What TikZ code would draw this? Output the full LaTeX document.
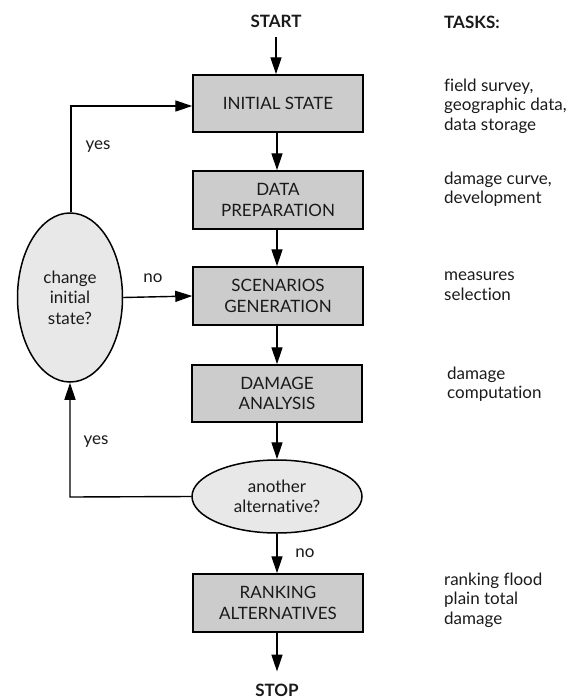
\documentclass[tikz,border=0pt]{standalone}
\usepackage{fontspec}
\setmainfont[Ligatures=NoCommon]{Lato}
\usetikzlibrary{shapes.geometric,arrows.meta}
\definecolor{boxgray}{HTML}{CCCCCC}
\definecolor{ellgray}{HTML}{E8E8E8}
\definecolor{ink}{HTML}{1A1A1A}
\newcommand{\bigtxt}{\fontsize{17}{20.5}\selectfont}
\tikzset{
  stepbox/.style={draw, line width=1.5pt, fill=boxgray, minimum width=170pt, inner sep=0pt, align=center, font=\bigtxt, text=ink},
  decision/.style={draw, line width=1.5pt, fill=ellgray, ellipse, inner sep=0pt, align=center, font=\bigtxt, text=ink},
  conn/.style={line width=1.4pt, -{Triangle[length=17pt,width=11pt]}},
  lbl/.style={font=\bigtxt, inner sep=0pt, text=ink},
  boldlbl/.style={font=\bigtxt\bfseries, inner sep=0pt, text=ink},
  task/.style={font=\fontsize{17}{19.5}\selectfont, align=left, anchor=west, inner sep=0pt, text=ink},
}
\begin{document}
\begin{tikzpicture}[x=1pt,y=-1pt]
\useasboundingbox (0,0) rectangle (584,699);
\node[boldlbl] (start) at (276,21) {START};
\node[stepbox, minimum height=57pt] (init) at (278,103.5) {INITIAL STATE};
\node[stepbox, minimum height=58pt] (prep) at (278,200) {DATA\\PREPARATION};
\node[stepbox, minimum height=58pt] (scen) at (278,296) {SCENARIOS\\GENERATION};
\node[stepbox, minimum height=57pt] (dam) at (277,393.5) {DAMAGE\\ANALYSIS};
\node[decision, minimum width=170pt, minimum height=73pt] (alt) at (277,496.5) {another\\alternative?};
\node[stepbox, minimum height=58pt] (rank) at (278,603) {RANKING\\ALTERNATIVES};
\node[boldlbl] (stop) at (277,690) {STOP};
\node[decision, minimum width=105pt, minimum height=169pt] (chg) at (70,297.5) {change\\initial\\state?};

\coordinate (c1) at (71,106);
\coordinate (c2) at (70,497);

\draw[conn, shorten <=10pt] (start) -- (start |- init.north);
\draw[conn] (init.south -| 277,0) -- (prep.north -| 277,0);
\draw[conn] (prep.south -| 277,0) -- (scen.north -| 277,0);
\draw[conn] (scen.south -| 277,0) -- (dam.north -| 277,0);
\draw[conn] (dam.south) -- (alt.north);
\draw[conn] (alt.south) -- (rank.north -| alt.south);
\draw[conn, shorten >=12pt] (rank.south -| stop) -- (stop);
\draw[conn] (chg.east) -- (scen.west);
\draw[conn] (chg.north -| c1) -- (c1) -- (init.west |- c1);
\draw[conn] (alt.west) -- (c2) -- (chg.south);

\node[lbl] (yes1) at (98,147) {yes};
\node[lbl] (no1) at (153,278) {no};
\node[lbl] (yes2) at (96,442) {yes};
\node[lbl] (no2) at (305,553) {no};

\node[boldlbl, anchor=west] (tasks) at (444,22) {TASKS:};
\node[task] (t1) at (444,106) {field survey,\\geographic data,\\data storage};
\node[task] (t2) at (444,189) {damage curve,\\development};
\node[task] (t3) at (444,286) {measures\\selection};
\node[task] (t4) at (447,384) {damage\\computation};
\node[task] (t5) at (444,600) {ranking flood\\plain total\\damage};
\end{tikzpicture}
\end{document}
